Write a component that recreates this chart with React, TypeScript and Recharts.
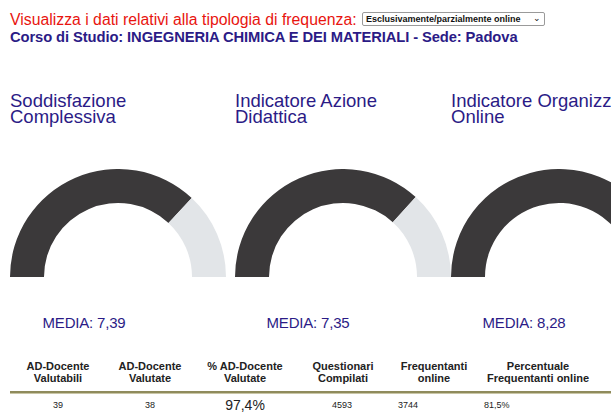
import { Cell, Pie, PieChart } from 'recharts';

const gaugeTitles = [
  ['Soddisfazione', 'Complessiva'],
  ['Indicatore Azione', 'Didattica'],
  ['Indicatore Organizzazione', 'Online'],
];
const gaugeValues = [7.39, 7.35, 8.28];
const gaugeMax = 10;
const mediaLabels = ['7,39', '7,35', '8,28'];

const tableHeaders = [
  ['AD-Docente', 'Valutabili'],
  ['AD-Docente', 'Valutate'],
  ['% AD-Docente', 'Valutate'],
  ['Questionari', 'Compilati'],
  ['Frequentanti', 'online'],
  ['Percentuale', 'Frequentanti online'],
];
const tableValues = ['39', '38', '97,4%', '4593', '3744', '81,5%'];

const FONT = "Arial, 'Liberation Sans', sans-serif";
const TITLE_COLOR = '#2b1b86';

// layout
const gaugeLeft = [10, 235, 451];
const titleLeft = [10, 235, 451];
const mediaCenter = [84, 308, 524];
const colCenter = [58, 150, 245, 343, 434, 538];
const valueX: [number, 'c' | 'l'][] = [
  [58, 'c'],
  [150, 'c'],
  [245, 'c'],
  [342, 'c'],
  [398, 'l'],
  [484, 'l'],
];

const Gauge = ({ value }: { value: number }) => {
  const data = [
    { name: 'value', v: value },
    { name: 'rest', v: gaugeMax - value },
  ];
  return (
    <PieChart width={216} height={109} margin={{ top: 0, right: 0, bottom: 0, left: 0 }}>
      <Pie
        data={data}
        dataKey="v"
        cx={108}
        cy={108}
        startAngle={180}
        endAngle={0}
        innerRadius={74}
        outerRadius={108}
        stroke="none"
        isAnimationActive={false}
      >
        <Cell fill="#3b393a" />
        <Cell fill="#e2e5e8" />
      </Pie>
    </PieChart>
  );
};

export default function App() {
  return (
    <div
      style={{
        position: 'absolute',
        left: 0,
        top: 0,
        width: 611,
        height: 414,
        overflow: 'hidden',
        background: '#fff',
        fontFamily: FONT,
      }}
    >
      <div
        style={{
          position: 'absolute',
          left: 10,
          top: 11,
          fontSize: 15.8,
          color: '#e8140f',
          whiteSpace: 'nowrap',
        }}
      >
        Visualizza i dati relativi alla tipologia di frequenza:
      </div>
      <div
        style={{
          position: 'absolute',
          left: 362,
          top: 12,
          width: 183,
          height: 14,
          border: '1px solid #9a9a9a',
          borderRadius: 2,
          fontSize: 9,
          fontWeight: 'bold',
          lineHeight: '12px',
          color: '#111',
          paddingLeft: 3,
          boxSizing: 'border-box',
          whiteSpace: 'nowrap',
        }}
      >
        Esclusivamente/parzialmente online
        <span style={{ position: 'absolute', right: 3, top: -1, fontWeight: 'normal' }}>⌄</span>
      </div>
      <div
        style={{
          position: 'absolute',
          left: 10,
          top: 29,
          fontSize: 14.75,
          fontWeight: 'bold',
          color: TITLE_COLOR,
          whiteSpace: 'nowrap',
          letterSpacing: -0.1,
        }}
      >
        Corso di Studio: INGEGNERIA CHIMICA E DEI MATERIALI - Sede: Padova
      </div>

      {gaugeTitles.map((t, i) => (
        <div
          key={'t' + i}
          style={{
            position: 'absolute',
            left: titleLeft[i],
            top: 93,
            fontSize: 18.5,
            lineHeight: '16px',
            color: TITLE_COLOR,
            whiteSpace: 'nowrap',
          }}
        >
          {t[0]}
          <br />
          {t[1]}
        </div>
      ))}

      {gaugeValues.map((v, i) => (
        <div key={'g' + i} style={{ position: 'absolute', left: gaugeLeft[i], top: 169 }}>
          <Gauge value={v} />
        </div>
      ))}

      {mediaLabels.map((m, i) => (
        <div
          key={'m' + i}
          style={{
            position: 'absolute',
            left: mediaCenter[i] - 60,
            width: 120,
            top: 314,
            textAlign: 'center',
            fontSize: 15,
            color: TITLE_COLOR,
            whiteSpace: 'nowrap',
            letterSpacing: -0.2,
          }}
        >
          MEDIA: {m}
        </div>
      ))}

      {tableHeaders.map((h, i) => (
        <div
          key={'h' + i}
          style={{
            position: 'absolute',
            left: colCenter[i] - 60,
            width: 120,
            top: 360,
            textAlign: 'center',
            fontSize: 11,
            lineHeight: '12px',
            fontWeight: 'bold',
            color: '#222',
            whiteSpace: 'nowrap',
          }}
        >
          {h[0]}
          <br />
          {h[1]}
        </div>
      ))}

      <div
        style={{
          position: 'absolute',
          left: 10,
          top: 391,
          width: 601,
          height: 2,
          background: '#8f8b5c',
          borderBottom: '1px solid #c9c6a6',
        }}
      />

      {tableValues.map((val, i) => {
        const [x, mode] = valueX[i];
        const big = val === '97,4%';
        return (
          <div
            key={'v' + i}
            style={{
              position: 'absolute',
              left: mode === 'c' ? x - 40 : x,
              width: 80,
              top: big ? 397 : 400,
              textAlign: mode === 'c' ? 'center' : 'left',
              fontSize: big ? 14 : 9,
              color: '#222',
              whiteSpace: 'nowrap',
            }}
          >
            {val}
          </div>
        );
      })}
    </div>
  );
}
